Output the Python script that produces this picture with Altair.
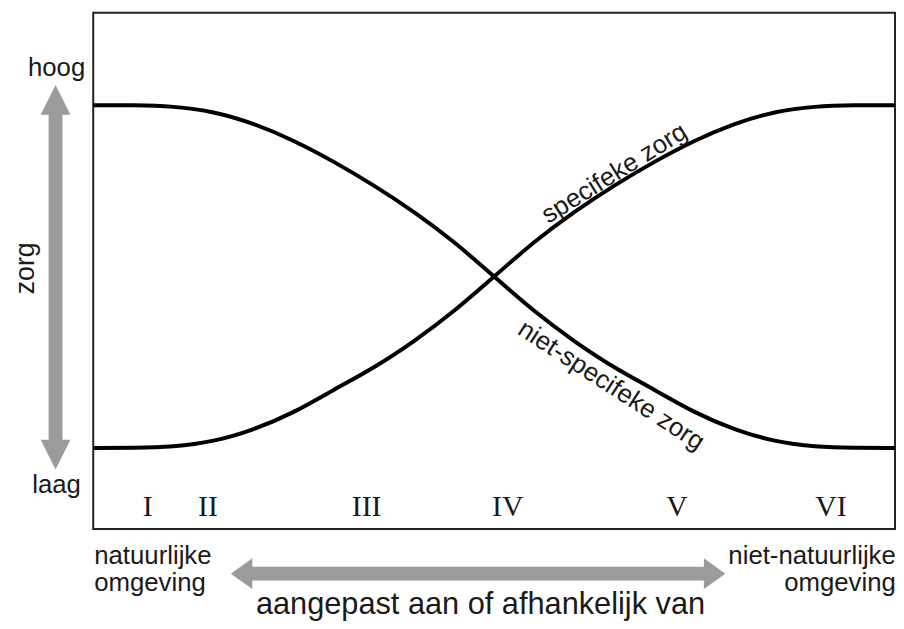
import altair as alt
import pandas as pd

# ---- data (plot units 0..100 on both axes) ----
x_pos = [0, 5, 10, 15, 20, 25, 30, 35, 40, 45, 50, 55, 60, 65, 70, 75, 80, 85, 90, 95, 100]
niet_specifiek = [82.1, 82.1, 81.9, 80.9, 78.6, 75.3, 71.2, 66.6, 61.5, 55.7, 48.9,
                  42.1, 36.3, 31.2, 27.0, 22.5, 19.2, 16.9, 15.9, 15.7, 15.7]
specifiek = [15.7, 15.7, 15.9, 16.9, 19.2, 22.5, 27.0, 31.2, 36.3, 42.1, 48.9,
             55.7, 61.5, 66.6, 71.2, 75.3, 78.6, 80.9, 81.9, 82.1, 82.1]

fase_labels = ["I", "II", "III", "IV", "V", "VI"]
fase_x = [6.8, 14.3, 34.1, 51.7, 72.8, 92.0]
fase_y = 2.5

W, H = 809, 521
xs = alt.Scale(domain=[0, 100])
ys = alt.Scale(domain=[0, 100])
X = lambda f="x": alt.X(f"{f}:Q", scale=xs, axis=None)
Y = lambda f="y": alt.Y(f"{f}:Q", scale=ys, axis=None)

GREY = "#9a9c9b"
INK = "#1a1a1a"
FONT = "Liberation Sans"

curves = pd.DataFrame({
    "x": x_pos * 2,
    "y": niet_specifiek + specifiek,
    "serie": ["niet-specifieke zorg"] * len(x_pos) + ["specifieke zorg"] * len(x_pos),
})

lines = alt.Chart(curves).mark_line(
    interpolate="basis", strokeWidth=4, color="black", strokeCap="butt"
).encode(x=X(), y=Y(), detail="serie:N")

fases = alt.Chart(pd.DataFrame({"x": fase_x, "y": [fase_y] * 6, "t": fase_labels})).mark_text(
    font="Liberation Serif", fontSize=30, color=INK, baseline="alphabetic", align="center"
).encode(x=X(), y=Y(), text="t:N")

def txt(rows, **kw):
    df = pd.DataFrame(rows, columns=["x", "y", "t"])
    return alt.Chart(df).mark_text(font=FONT, color=INK, **kw).encode(
        x=X(), y=Y(), text="t:N")

hoog_laag = txt([(-4.57, 87.7, "hoog"), (-4.57, 6.9, "laag")], fontSize=26, align="center",
                baseline="alphabetic")
zorg = txt([(-8.85, 50.5, "zorg")], fontSize=27, align="center", angle=270, baseline="middle", dy=4)
links = txt([(0.12, -6.7, "natuurlijke"), (0.12, -11.9, "omgeving")], fontSize=26, align="left",
            baseline="alphabetic")
rechts = txt([(100.1, -6.7, "niet-natuurlijke"), (100.1, -11.9, "omgeving")], fontSize=26,
             align="right", baseline="alphabetic")
onder = txt([(48.3, -16.5, "aangepast aan of afhankelijk van")], fontSize=31, align="center",
            baseline="alphabetic")

lab_spec = txt([(65.0, 68.9, "specifeke zorg")], fontSize=26, baseline="middle", align="center",
               angle=328)
lab_niet = txt([(64.6, 27.8, "niet-specifeke zorg")], fontSize=26, baseline="middle",
               align="center", angle=33)

# grey double arrows
v_shaft = alt.Chart(pd.DataFrame({"x": [-4.7], "y": [80.8], "y2": [16.9]})).mark_rule(
    color=GREY, strokeWidth=14, strokeCap="butt"
).encode(x=X(), y=Y(), y2="y2:Q")
h_shaft = alt.Chart(pd.DataFrame({"x": [19.3], "x2": [76.8], "y": [-8.64]})).mark_rule(
    color=GREY, strokeWidth=14, strokeCap="butt"
).encode(x=X(), x2="x2:Q", y=Y())

def head(x, y, shape, size):
    return alt.Chart(pd.DataFrame({"x": [x], "y": [y]})).mark_point(
        shape=shape, filled=True, size=size, color=GREY, opacity=1, strokeWidth=0
    ).encode(x=X(), y=Y())

heads = [
    head(-4.7, 83.1, "M0,-1L1,1L-1,1Z", 900),
    head(-4.7, 14.4, "M0,1L1,-1L-1,-1Z", 900),
    head(18.5, -8.64, "M-0.7,0L0.7,-1L0.7,1Z", 961),
    head(77.5, -8.64, "M0.7,0L-0.7,-1L-0.7,1Z", 961),
]

chart = alt.layer(
    v_shaft, h_shaft, *heads, lines, fases, hoog_laag, zorg, links, rechts, onder, lab_spec, lab_niet
).properties(
    width=W, height=H,
    autosize=alt.AutoSizeParams(type="none"),
    padding={"left": 86, "top": 2, "right": 1, "bottom": 90},
    background="white",
).configure_view(stroke="#222222", strokeWidth=2)

chart.save("out.html", embed_options={"renderer": "svg", "actions": False})
